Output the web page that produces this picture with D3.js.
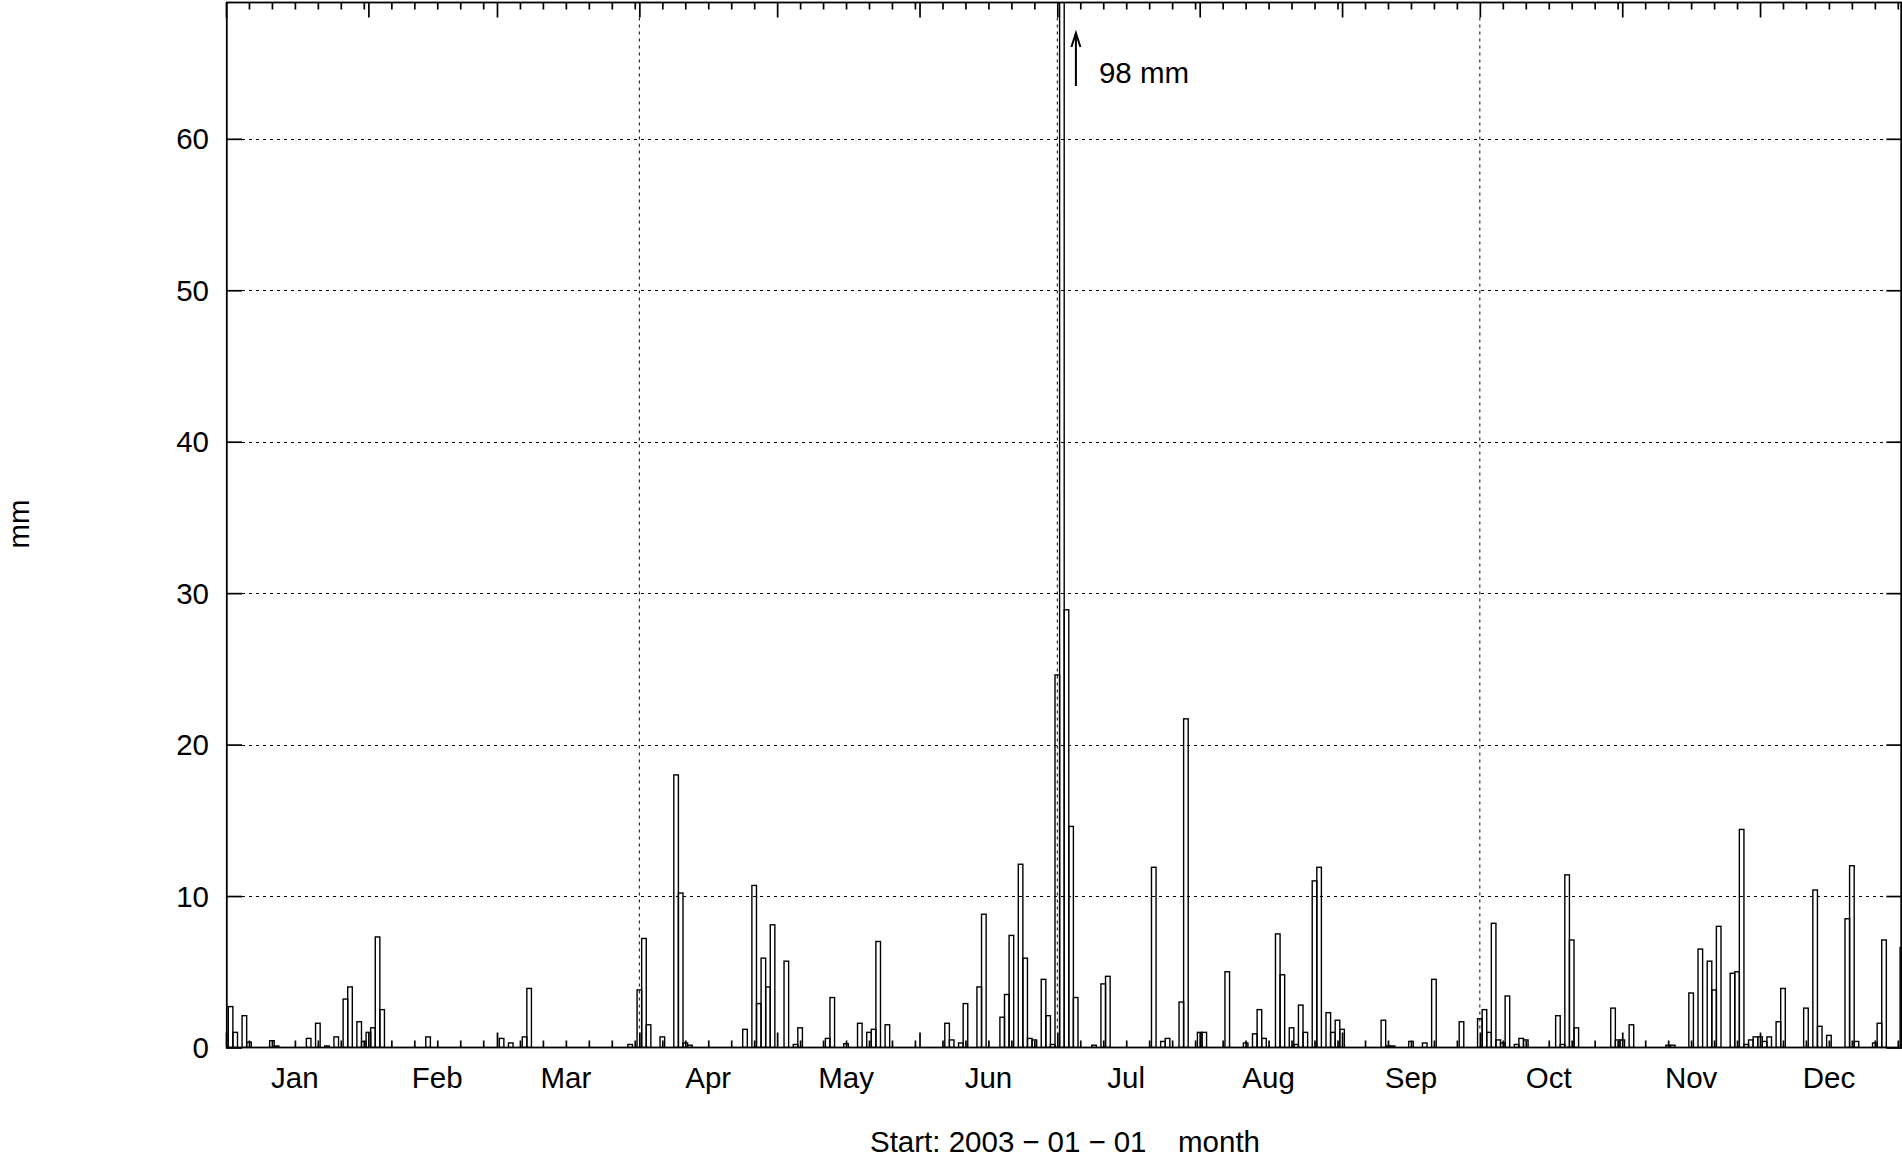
<!DOCTYPE html>
<html><head><meta charset="utf-8">
<script src="https://cdn.jsdelivr.net/npm/d3@7"></script>
<style>
body{margin:0;background:#fff}
svg{display:block}
text{font-family:"Liberation Sans",Arial,Helvetica,sans-serif;fill:#000}
</style>
</head><body>
<svg id="c" width="1902" height="1157"></svg>
<script>
// ---- data ----
const yearStart = new Date(Date.UTC(2003, 0, 1));
const yearEnd = new Date(Date.UTC(2004, 0, 1));
const monthLabels = ["Jan","Feb","Mar","Apr","May","Jun","Jul","Aug","Sep","Oct","Nov","Dec"];
const yTickValues = [0, 10, 20, 30, 40, 50, 60];
const gridMonthIdx = [3, 6, 9];           // Apr, Jul, Oct
// day offset from 2003-01-01 (timestamp of the daily total) and daily precipitation in mm
const rainDay = [1,2,4,5,10,11,18,20,22,24,26,27,29,30,31,32,33,34,44,60,62,65,66,88,90,91,92,95,98,99,100,101,
  113,115,116,117,118,119,122,124,125,131,132,135,138,140,141,142,144,157,158,160,161,164,165,169,170,171,173,174,
  175,176,178,179,180,181,182,183,184,185,189,191,192,202,204,205,208,209,212,213,218,222,224,225,226,229,230,232,
  233,234,235,237,238,240,241,242,243,252,253,254,258,261,263,269,273,274,275,276,277,278,279,281,282,283,290,291,
  292,293,294,302,303,304,306,314,315,319,321,323,324,325,328,329,330,331,332,333,334,335,336,338,339,344,346,347,
  349,353,354,355,359,360,361,365];
const rainMM = [2.7,1.0,2.1,0.35,0.45,0.1,0.6,1.6,0.1,0.7,3.2,4.0,1.7,0.4,1.0,1.3,7.3,2.5,0.7,0.6,0.3,0.7,3.9,0.2,3.8,7.2,1.5,0.7,18.0,10.2,0.3,0.15,
  1.2,10.7,2.9,5.9,4.0,8.1,5.7,0.2,1.3,0.6,3.3,0.25,1.6,1.0,1.2,7.0,1.5,1.6,0.5,0.3,2.9,4.0,8.8,2.0,3.5,7.4,12.1,5.9,
  0.6,0.5,4.5,2.1,0.2,24.6,98,28.9,14.6,3.3,0.15,4.2,4.7,11.9,0.4,0.6,3.0,21.7,1.0,1.0,5.0,0.3,0.9,2.5,0.6,7.5,4.8,1.3,
  0.2,2.8,1.0,11.0,11.9,2.3,1.0,1.8,1.2,1.8,0.1,0.1,0.4,0.3,4.5,1.7,1.9,2.5,1.0,8.2,0.5,0.3,3.4,0.2,0.6,0.5,2.1,0.2,
  11.4,7.1,1.3,2.6,0.5,0.5,1.5,0.15,0.15,3.6,6.5,5.7,3.8,8.0,4.9,5.0,14.4,0.2,0.5,0.7,0.7,0.4,0.7,1.7,3.9,2.6,10.4,1.4,
  0.8,8.5,12.0,0.4,0.3,1.6,7.1,6.6];
const yLabel = "mm";
const xLabelParts = ["Start: 2003", "\u2212", "01", "\u2212", "01"];
const xLabelUnit = "month";

// ---- layout ----
const L = 226, R = 1902.4, T = 2.5, B = 1047.5;
const FS = 29.5;
const svg = d3.select("#c");
svg.append("rect").attr("width",1902).attr("height",1157).attr("fill","#fff");

const x = d3.scaleUtc().domain([yearStart, yearEnd]).range([L, R]);
const y = d3.scaleLinear().domain([0, 69]).range([B, T]);
const dayDate = d => d3.utcDay.offset(yearStart, d);
const dayW = x(dayDate(1)) - x(dayDate(0));

const data = rainDay.map((d, i) => ({date: dayDate(d), v: rainMM[i]}));

svg.append("clipPath").attr("id","clip").append("rect")
  .attr("x", L).attr("y", T).attr("width", R - L).attr("height", B - T);

// grid lines
const grid = svg.append("g").attr("stroke","#000").attr("stroke-width",1).attr("stroke-dasharray","3,4");
grid.selectAll("line.h").data(yTickValues.filter(v => v > 0)).join("line")
  .attr("x1", L + 16).attr("x2", R - 16).attr("y1", d => Math.round(y(d)) + 0.5).attr("y2", d => Math.round(y(d)) + 0.5);
const monthStarts = d3.utcMonths(yearStart, yearEnd);
grid.selectAll("line.v").data(gridMonthIdx.map(i => monthStarts[i])).join("line")
  .attr("x1", d => x(d)).attr("x2", d => x(d)).attr("y1", T + 15).attr("y2", B - 15);

// bars
svg.append("g").attr("clip-path","url(#clip)")
  .selectAll("rect").data(data).join("rect")
  .attr("x", d => x(d.date) - dayW / 2)
  .attr("width", dayW)
  .attr("y", d => y(d.v))
  .attr("height", d => y(0) - y(d.v))
  .attr("fill","none").attr("stroke","#000").attr("stroke-width",1.4);

// ticks
const minorTicks = [];
monthStarts.forEach((ms, i) => {
  const next = i < monthStarts.length - 1 ? monthStarts[i + 1] : yearEnd;
  for (let k = 1; k <= 6; k++) { const t = d3.utcDay.offset(ms, 5 * k); if (t < next) minorTicks.push(t); }
});
function styleAxis(g){ g.select(".domain").remove(); g.selectAll("line").attr("stroke","#000").attr("stroke-width",1.7); g.selectAll("text").remove(); }
svg.append("g").attr("transform",`translate(0,${B})`).call(d3.axisBottom(x).tickValues(monthStarts.concat([yearEnd])).tickSize(-15)).call(styleAxis);
svg.append("g").attr("transform",`translate(0,${B})`).call(d3.axisBottom(x).tickValues(minorTicks).tickSize(-7)).call(styleAxis);
svg.append("g").attr("transform",`translate(0,${T})`).call(d3.axisTop(x).tickValues(monthStarts.concat([yearEnd])).tickSize(-15)).call(styleAxis);
svg.append("g").attr("transform",`translate(0,${T})`).call(d3.axisTop(x).tickValues(minorTicks).tickSize(-7)).call(styleAxis);
svg.append("g").attr("transform",`translate(${L},0)`).call(d3.axisLeft(y).tickValues(yTickValues).tickSize(-16)).call(styleAxis);
svg.append("g").attr("transform",`translate(${R},0)`).call(d3.axisRight(y).tickValues(yTickValues).tickSize(-16)).call(styleAxis);

// frame
svg.append("rect").attr("x", L + 0.8).attr("y", T).attr("width", Math.min(R, 1901.2) - L - 0.8).attr("height", B - T)
  .attr("fill","none").attr("stroke","#000").attr("stroke-width",1.8);

// y tick labels
svg.append("g").selectAll("text").data(yTickValues).join("text")
  .attr("x", 209).attr("y", d => y(d)).attr("dy","0.36em")
  .attr("text-anchor","end").attr("font-size",FS).text(d => d);

// month labels at the 16th of each month
svg.append("g").selectAll("text").data(monthStarts).join("text")
  .attr("x", d => x(d3.utcDay.offset(d, 15))).attr("y", 1077).attr("dy","0.36em")
  .attr("text-anchor","middle").attr("font-size",FS).text((d, i) => monthLabels[i]);

// axis titles
svg.append("text").attr("transform","translate(18,524) rotate(-90)").attr("dy","0.36em")
  .attr("text-anchor","middle").attr("font-size",FS).text(yLabel);
const st = svg.append("text").attr("x",870).attr("y",1141).attr("dy","0.36em").attr("font-size",FS);
st.selectAll("tspan").data(xLabelParts).join("tspan")
  .attr("dx", (d, i) => i === 0 ? 0 : 8).text(d => d);
svg.append("text").attr("x",1178).attr("y",1141).attr("dy","0.36em").attr("font-size",FS).text(xLabelUnit);

// annotation for clipped bar
const maxIdx = d3.maxIndex(rainMM);
const ax = x(dayDate(rainDay[maxIdx])) + 14;
svg.append("line").attr("x1",ax).attr("x2",ax).attr("y1",86).attr("y2",33).attr("stroke","#000").attr("stroke-width",2);
svg.append("path").attr("d",`M${ax-4.5},47 L${ax},33 L${ax+4.5},47`).attr("fill","none").attr("stroke","#000").attr("stroke-width",2);
svg.append("text").attr("x", ax + 23).attr("y", 83).attr("font-size",FS).text(`${rainMM[maxIdx]} mm`);
</script>
</body></html>
